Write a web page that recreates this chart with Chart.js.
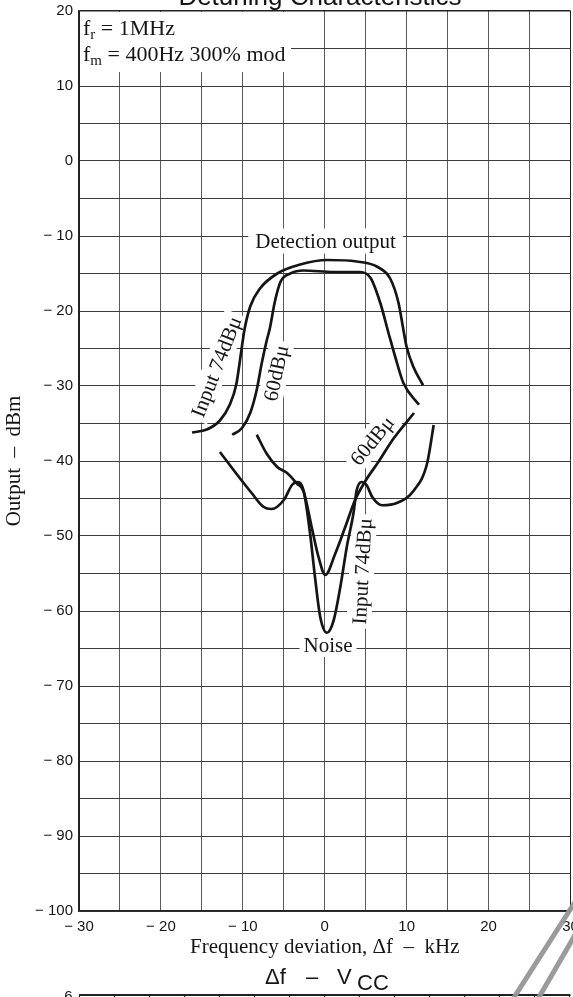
<!DOCTYPE html>
<html>
<head>
<meta charset="utf-8">
<script src="https://cdn.jsdelivr.net/npm/chart.js@4.4.1/dist/chart.umd.min.js"></script>
<style>
  html, body { margin: 0; padding: 0; background: #fff; overflow: hidden; }
  canvas { display: block; }
</style>
</head>
<body>
<canvas id="chart" width="573" height="997"></canvas>
<script>
// Detection output, input 74 dBμ (kHz, dBm)
const det74X = [-16.2, -14.4, -12.8, -11.6, -10.8, -10.3, -9.8, -9.1, -7.9, -5.8, -3.0, 0.3, 3.9, 6.4, 8.0, 9.0, 9.6, 10.0, 10.8, 12.0];
const det74Y = [-36.2, -35.8, -34.6, -32.5, -29.8, -26.2, -22.5, -19.4, -17.0, -15.0, -13.8, -13.2, -13.4, -14.1, -15.7, -18.9, -22.5, -24.8, -27.4, -29.9];

// Detection output, input 60 dBμ
const det60X = [-11.3, -10.1, -9.1, -8.3, -7.7, -7.1, -6.7, -6.1, -5.4, -4.2, -2.6, 1.1, 4.3, 5.6, 6.8, 7.8, 8.6, 9.6, 11.5];
const det60Y = [-36.5, -35.6, -33.6, -30.5, -27.0, -24.0, -22.3, -18.8, -16.1, -15.0, -14.6, -14.8, -14.8, -15.6, -19.0, -23.0, -26.1, -29.6, -32.5];

// Noise, input 74 dBμ
const noise74X = [-12.8, -10.5, -8.9, -7.5, -6.5, -5.0, -4.0, -3.4, -2.6, -1.8, -1.2, -0.55, 0.27, 1.1, 1.9, 2.7, 3.5, 3.9, 4.5, 5.1, 5.8, 7.0, 8.8, 10.9, 12.5, 13.3];
const noise74Y = [-38.8, -42.1, -44.3, -46.1, -46.4, -45.2, -43.2, -42.8, -43.9, -49.6, -55.4, -60.8, -62.9, -61.2, -56.8, -51.4, -47.0, -43.9, -42.8, -43.2, -44.8, -45.9, -45.6, -43.9, -40.3, -35.2];

// Noise, input 60 dBμ
const noise60X = [-8.3, -7.1, -5.8, -4.6, -3.4, -2.6, -1.6, -0.76, 0.06, 1.3, 2.5, 3.7, 5.0, 6.5, 8.4, 10.9];
const noise60Y = [-36.5, -39.0, -40.8, -41.6, -43.0, -44.0, -48.8, -52.8, -55.2, -52.3, -48.8, -45.2, -42.6, -40.2, -37.0, -33.6];

// Labelled tick values
const xTickValues = [-30, -20, -10, 0, 10, 20, 30];
const yTickValues = [20, 10, 0, -10, -20, -30, -40, -50, -60, -70, -80, -90, -100];

// In-plot curve labels
const labelText  = ['Detection output', 'Input 74dB\u03BC', '60dB\u03BC', '60dB\u03BC', 'Input 74dB\u03BC', 'Noise'];
const labelX     = [0.1, -13.1, -5.8, 5.9, 4.7, 0.4];
const labelY     = [-10.87, -27.5, -28.3, -37.4, -54.7, -64.67];
const labelAngle = [0, -68.7, -78, -51, -87, 0];
const labelPad   = [7, 4, 4, 4, 4, 4];

const SERIF = '"Liberation Serif", "Times New Roman", serif';
const SANS = '"Liberation Sans", Arial, sans-serif';
const INK = '#151515';

const zip = (xs, ys) => xs.map((x, i) => ({ x: x, y: ys[i] }));
const fmt = v => (v < 0 ? '\u2212 ' + Math.abs(v) : String(v));

function curve(xs, ys) {
  return {
    data: zip(xs, ys),
    borderColor: INK,
    borderWidth: 2.7,
    pointRadius: 0,
    fill: false,
    cubicInterpolationMode: 'monotone'
  };
}

function eachLabel(chart, fn) {
  const ctx = chart.ctx;
  const xs = chart.scales.x, ys = chart.scales.y;
  labelText.forEach((t, i) => {
    ctx.save();
    ctx.translate(xs.getPixelForValue(labelX[i]), ys.getPixelForValue(labelY[i]));
    ctx.rotate(labelAngle[i] * Math.PI / 180);
    ctx.font = '21px ' + SERIF;
    fn(ctx, t, ctx.measureText(t).width, labelPad[i]);
    ctx.restore();
  });
}

// Draws "f" with a subscript followed by the rest of the line
function subLine(ctx, x, y, main, sub, rest) {
  ctx.font = '22px ' + SERIF;
  ctx.fillText(main, x, y);
  x += ctx.measureText(main).width;
  ctx.font = '15px ' + SERIF;
  ctx.fillText(sub, x, y + 4);
  x += ctx.measureText(sub).width;
  ctx.font = '22px ' + SERIF;
  ctx.fillText(rest, x, y);
}

const decor = {
  id: 'decor',
  beforeDatasetsDraw(chart) {
    const ctx = chart.ctx;
    const a = chart.chartArea;
    ctx.save();
    ctx.fillStyle = '#fff';
    // condition box in the upper-left corner
    ctx.fillRect(a.left + 1, a.top + 1, 211, 60);
    ctx.restore();
    eachLabel(chart, (c, t, w, p) => {
      c.fillStyle = '#fff';
      c.fillRect(-w / 2 - p, -14, w + 2 * p, 25);
    });
  },
  afterDatasetsDraw(chart) {
    const ctx = chart.ctx;
    const a = chart.chartArea;
    eachLabel(chart, (c, t) => {
      c.fillStyle = INK;
      c.textAlign = 'center';
      c.textBaseline = 'middle';
      c.fillText(t, 0, 0);
    });
    ctx.save();
    ctx.fillStyle = INK;
    ctx.textBaseline = 'alphabetic';
    subLine(ctx, a.left + 4, 35, 'f', 'r', ' = 1MHz');
    subLine(ctx, a.left + 4, 61, 'f', 'm', ' = 400Hz 300% mod');
    ctx.restore();
  },
  afterDraw(chart) {
    const ctx = chart.ctx;
    const a = chart.chartArea;
    ctx.save();
    ctx.fillStyle = INK;
    // chart heading
    ctx.font = '26px ' + SANS;
    ctx.textAlign = 'center';
    ctx.textBaseline = 'alphabetic';
    ctx.fillText('Detuning Characteristics', 320, 5);

    // heading of the following chart
    ctx.textAlign = 'left';
    ctx.font = '22px ' + SANS;
    ctx.fillText('\u0394f', 265, 984);
    ctx.fillText('\u2013', 306, 984);
    ctx.fillText('V', 337, 984);
    ctx.fillText('CC', 357, 990);

    // top frame of the following chart
    ctx.strokeStyle = '#222';
    ctx.lineWidth = 2;
    ctx.beginPath();
    ctx.moveTo(a.left, 995);
    ctx.lineTo(a.right, 995);
    ctx.stroke();
    ctx.lineWidth = 1.2;
    ctx.beginPath();
    for (let x = a.left; x <= a.right + 1; x += 35) {
      ctx.moveTo(Math.round(x) + 0.5, 995);
      ctx.lineTo(Math.round(x) + 0.5, 997);
    }
    ctx.stroke();
    ctx.font = '15px ' + SANS;
    ctx.textAlign = 'right';
    ctx.textBaseline = 'middle';
    ctx.fillText('6', 72.5, 997);

    // diagonal gray strokes at lower right
    ctx.strokeStyle = 'rgba(150,150,150,0.95)';
    ctx.lineWidth = 5;
    ctx.beginPath();
    ctx.moveTo(513, 999);
    ctx.lineTo(575, 902);
    ctx.moveTo(538, 999);
    ctx.lineTo(575, 935);
    ctx.stroke();
    ctx.restore();
  }
};

new Chart(document.getElementById('chart'), {
  type: 'line',
  data: {
    datasets: [
      curve(det74X, det74Y),
      curve(det60X, det60Y),
      curve(noise74X, noise74Y),
      curve(noise60X, noise60Y)
    ]
  },
  options: {
    responsive: false,
    devicePixelRatio: 1,
    animation: false,
    layout: { padding: { top: 11, right: 2.5, bottom: 37, left: 0 } },
    plugins: { legend: { display: false }, tooltip: { enabled: false } },
    scales: {
      x: {
        type: 'linear',
        min: -30,
        max: 30,
        ticks: {
          stepSize: 5,
          autoSkip: false,
          maxRotation: 0,
          padding: 7,
          color: INK,
          font: { family: SANS, size: 15 },
          callback: v => (xTickValues.includes(v) ? fmt(v) : '')
        },
        grid: {
          drawTicks: false,
          lineWidth: 1,
          color: c => (c.tick && Math.abs(c.tick.value) === 30 ? '#222' : '#5a5a5a')
        },
        border: { display: true, color: '#222', width: 1.6 },
        title: {
          display: true,
          text: 'Frequency deviation, \u0394f  \u2013  kHz',
          color: INK,
          font: { family: SERIF, size: 21 },
          padding: { top: 0, bottom: 0 }
        },
        afterFit: s => { s.height = 49; s.paddingLeft = 0; s.paddingRight = 0; }
      },
      y: {
        type: 'linear',
        min: -100,
        max: 20,
        ticks: {
          stepSize: 5,
          autoSkip: false,
          padding: 6,
          color: INK,
          font: { family: SANS, size: 15 },
          callback: v => (yTickValues.includes(v) ? fmt(v) : '')
        },
        grid: {
          drawTicks: false,
          lineWidth: c => (c.tick && c.tick.value === 20 ? 1.5 : 1),
          color: c => (c.tick && c.tick.value === 20 ? '#222' : '#3c3c3c')
        },
        border: { display: true, color: '#222', width: 1.6 },
        title: {
          display: true,
          text: 'Output  \u2013  dBm',
          color: INK,
          font: { family: SERIF, size: 21 },
          padding: { top: 2, bottom: 0 }
        },
        afterFit: s => { s.width = 79; s.paddingTop = 0; s.paddingBottom = 0; }
      }
    }
  },
  plugins: [decor]
});
</script>
</body>
</html>
